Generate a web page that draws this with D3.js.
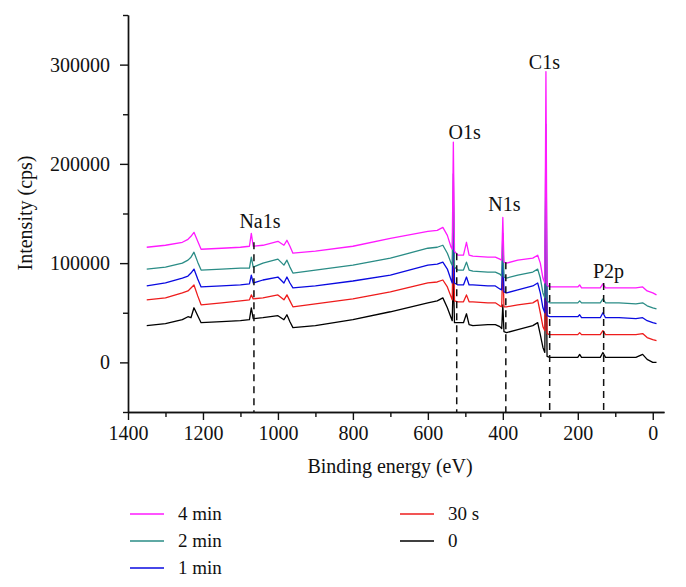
<!DOCTYPE html>
<html>
<head>
<meta charset="utf-8">
<script src="https://cdn.jsdelivr.net/npm/d3@7"></script>
<style>
  body { margin: 0; background: #fff; }
  svg text { font-family: "Liberation Serif", "DejaVu Serif", serif; fill: #111; }
</style>
</head>
<body>
<div id="chart"></div>
<script>
// binding energies (eV) shared by all spectra
const energy = [1350, 1300, 1255, 1240, 1232, 1224, 1214, 1205, 1150, 1100,
  1076, 1071, 1066, 1040, 1000, 984, 976, 968, 960, 900,
  800, 700, 600, 575, 560, 548, 538, 535, 532, 529,
  520, 505, 497, 490, 480, 440, 420, 408, 403, 400,
  397, 390, 360, 320, 307, 300, 293, 288, 285, 282,
  275, 250, 200, 195, 190, 140, 133, 126, 90, 45,
  27, 15, 0, -10];

// intensities in thousands of cps
const min4 = [116, 118, 121, 124, 127, 131, 122, 114, 115, 116,
  117, 130, 117, 118, 122, 118, 123, 117, 110, 112,
  117, 125, 132, 133, 136, 128, 116, 114, 222, 112,
  108, 108, 121, 108, 107, 106, 106, 104, 103, 146,
  101, 100, 103, 105, 108, 100, 85, 80, 293, 78,
  76, 76, 76, 78, 75, 75, 79, 75, 75, 75,
  76, 72, 70, 68];
const min2 = [94, 96, 100, 103, 106, 111, 101, 93, 94, 95,
  95, 106, 96, 100, 104, 98, 103, 96, 90, 93,
  98, 105, 115, 116, 118, 110, 100, 98, 190, 96,
  93, 93, 101, 93, 92, 91, 91, 89, 87, 130,
  86, 85, 88, 91, 94, 85, 70, 65, 240, 62,
  60, 60, 60, 62, 60, 60, 64, 60, 60, 59,
  60, 57, 55, 54];
const min1 = [77, 80, 85, 87, 90, 94, 84, 76, 77, 78,
  79, 88, 80, 83, 86, 80, 86, 80, 75, 77,
  82, 88, 98, 99, 101, 94, 83, 80, 160, 80,
  78, 78, 86, 78, 78, 77, 77, 74, 73, 115,
  71, 70, 73, 77, 80, 70, 55, 50, 200, 47,
  46, 46, 46, 48, 45, 45, 50, 45, 45, 44,
  45, 42, 40, 39];
const sec30 = [63, 65, 70, 72, 75, 78, 67, 58, 60, 62,
  63, 68, 64, 65, 68, 63, 68, 62, 56, 59,
  64, 71, 80, 81, 83, 76, 66, 63, 130, 62,
  61, 61, 68, 61, 61, 60, 60, 57, 56, 100,
  56, 56, 58, 60, 63, 50, 36, 32, 170, 29,
  28, 28, 28, 30, 28, 28, 32, 28, 28, 28,
  29, 25, 23, 22];
const zero = [37, 39, 43, 46, 45, 55, 47, 40, 41, 42,
  43, 55, 44, 45, 47, 43, 48, 41, 35, 37,
  43, 51, 60, 62, 65, 55, 45, 42, 90, 40,
  40, 40, 49, 38, 37, 38, 38, 36, 34, 58,
  31, 30, 33, 37, 40, 28, 15, 10, 130, 6,
  5, 5, 5, 8, 5, 5, 10, 5, 5, 5,
  8, 3, 0, 0];

const seriesNames = ["4 min", "2 min", "1 min", "30 s", "0"];
const seriesValues = [min4, min2, min1, sec30, zero];
const seriesColors = ["#ff1aff", "#2a8c86", "#0a0ae0", "#ee1c1c", "#000000"];

// peak markers: label, dashed line energy, top of dashed line (cps)
const peakNames = ["Na1s", "O1s", "N1s", "C1s", "P2p"];
const peakLineEnergy = [1064, 523, 392, 275, 131];
const peakLineTop = [121000, 110000, 101000, 80000, 80000];
const peakLabelEnergy = [1048, 502, 396, 289, 118];
const peakLabelValue = [135000, 225000, 153000, 296000, 85000];

const xMajor = [1400, 1200, 1000, 800, 600, 400, 200, 0];
const xMinor = [1300, 1100, 900, 700, 500, 300, 100];
const yMajor = [0, 100000, 200000, 300000];
const yMinor = [-50000, 50000, 150000, 250000, 350000];

const width = 686, height = 587;
const svg = d3.select("#chart").append("svg")
  .attr("width", width)
  .attr("height", height);

const x = d3.scaleLinear().domain([1400, -30]).range([128, 664]);
const y = d3.scaleLinear().domain([-50000, 350000]).range([412, 15]);

// axes
function styleAxis(g) {
  g.attr("font-family", null);
  g.selectAll("path").attr("stroke", "#111").attr("stroke-width", 1.4);
  g.selectAll("line").attr("stroke", "#111").attr("stroke-width", 1.4);
  g.selectAll("text").attr("font-size", 20).attr("fill", "#111");
}

svg.append("g")
  .attr("transform", "translate(0,412)")
  .call(d3.axisBottom(x).tickValues(xMinor).tickSize(5).tickSizeOuter(0).tickFormat(""))
  .call(styleAxis);
svg.append("g")
  .attr("transform", "translate(0,412)")
  .call(d3.axisBottom(x).tickValues(xMajor).tickSize(8).tickSizeOuter(0).tickPadding(6).tickFormat(d3.format("d")))
  .call(styleAxis);

svg.append("g")
  .attr("transform", "translate(128,0)")
  .call(d3.axisLeft(y).tickValues(yMinor).tickSize(5).tickSizeOuter(0).tickFormat(""))
  .call(styleAxis);
svg.append("g")
  .attr("transform", "translate(128,0)")
  .call(d3.axisLeft(y).tickValues(yMajor).tickSize(8).tickSizeOuter(0).tickPadding(10).tickFormat(d3.format("d")))
  .call(styleAxis);

// axis titles
svg.append("text")
  .attr("x", 390).attr("y", 473)
  .attr("text-anchor", "middle")
  .attr("font-size", 20)
  .text("Binding energy (eV)");

svg.append("text")
  .attr("transform", "translate(32,213) rotate(-90)")
  .attr("text-anchor", "middle")
  .attr("font-size", 20)
  .text("Intensity (cps)");

// spectra, black first so magenta ends on top
const line = d3.line()
  .x((d, i) => x(energy[i]))
  .y(d => y(d * 1000));

for (let s = seriesValues.length - 1; s >= 0; s--) {
  svg.append("path")
    .datum(seriesValues[s])
    .attr("d", line)
    .attr("fill", "none")
    .attr("stroke", seriesColors[s])
    .attr("stroke-width", 1.3)
    .attr("stroke-linejoin", "round");
}

// dashed peak markers
peakNames.forEach((name, i) => {
  svg.append("line")
    .attr("x1", x(peakLineEnergy[i])).attr("x2", x(peakLineEnergy[i]))
    .attr("y1", y(peakLineTop[i])).attr("y2", y(-50000))
    .attr("stroke", "#111")
    .attr("stroke-width", 1.5)
    .attr("stroke-dasharray", "7,5");

  svg.append("text")
    .attr("x", x(peakLabelEnergy[i]))
    .attr("y", y(peakLabelValue[i]))
    .attr("text-anchor", "middle")
    .attr("font-size", 20)
    .text(name);
});

// legend, three rows per column
seriesNames.forEach((name, i) => {
  const col = Math.floor(i / 3), row = i % 3;
  const lx = 130 + col * 270, ly = 514 + row * 27;
  svg.append("line")
    .attr("x1", lx).attr("x2", lx + 34)
    .attr("y1", ly).attr("y2", ly)
    .attr("stroke", seriesColors[i])
    .attr("stroke-width", 1.5);
  svg.append("text")
    .attr("x", lx + 48).attr("y", ly + 6)
    .attr("font-size", 19)
    .text(name);
});
</script>
</body>
</html>
